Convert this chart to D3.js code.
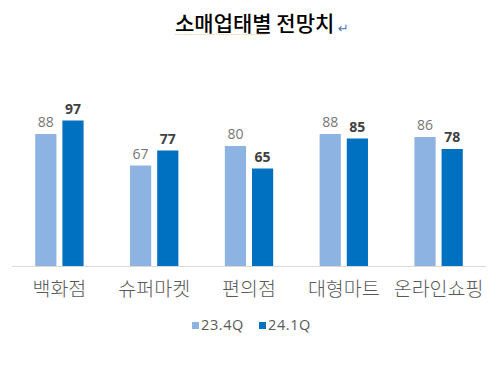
<!DOCTYPE html>
<html>
<head>
<meta charset="utf-8">
<script src="https://cdn.jsdelivr.net/npm/d3@7"></script>
<style>
  body { margin: 0; background: #fff; }
  svg { display: block; font-family: "Noto Sans CJK KR", "Noto Sans", sans-serif; }
</style>
</head>
<body>
<svg id="chart" width="503" height="371"></svg>
<script>
// chart data
var categories = ["백화점", "슈퍼마켓", "편의점", "대형마트", "온라인쇼핑"];
var seriesNames = ["23.4Q", "24.1Q"];
var values234 = [88, 67, 80, 88, 86];
var values241 = [97, 77, 65, 85, 78];
var colors = ["#8db3e2", "#0070c0"];

var svg = d3.select("#chart");

var baseY = 266;

var x0 = d3.scaleBand()
    .domain(categories)
    .range([12, 486])
    .paddingInner(0.49)
    .paddingOuter(0.245);

var x1 = d3.scaleBand()
    .domain(seriesNames)
    .range([0, x0.bandwidth()])
    .paddingInner(0.22);

// 1.5 px per unit
var y = d3.scaleLinear()
    .domain([0, 100])
    .range([baseY, baseY - 150]);

var rows = categories.map(function(c, i) {
    return {cat: c, vals: [values234[i], values241[i]]};
});

// title
svg.append("text")
    .attr("x", 175)
    .attr("y", 31)
    .attr("font-size", 21)
    .attr("font-weight", 500)
    .attr("fill", "#000")
    .text("소매업태별 전망치");

// wavy spell-check underline under first word
var wave = "M175,34";
for (var wx = 175; wx < 267; wx += 2) {
    wave += "L" + (wx + 1) + "," + 35 + "L" + (wx + 2) + "," + 34;
}
svg.append("path")
    .attr("d", wave)
    .attr("fill", "none")
    .attr("stroke", "#e9b25e")
    .attr("stroke-width", 0.6)
    .attr("stroke-dasharray", "1.5,1");

// paragraph mark
svg.append("text")
    .attr("x", 338)
    .attr("y", 33)
    .attr("font-size", 13)
    .attr("fill", "#4a74c4")
    .attr("font-family", "DejaVu Sans")
    .text("↵");

// baseline
svg.append("line")
    .attr("x1", 12)
    .attr("x2", 486)
    .attr("y1", baseY + 0.5)
    .attr("y2", baseY + 0.5)
    .attr("stroke", "#d9d9d9")
    .attr("stroke-width", 1);

var group = svg.append("g")
    .selectAll("g")
    .data(rows)
    .enter().append("g")
    .attr("transform", function(d) { return "translate(" + x0(d.cat) + ",0)"; });

var bar = group.selectAll("g")
    .data(function(d) {
        return d.vals.map(function(v, i) { return {name: seriesNames[i], value: v, idx: i}; });
    })
    .enter().append("g");

bar.append("rect")
    .attr("x", function(d) { return x1(d.name); })
    .attr("y", function(d) { return y(d.value); })
    .attr("width", x1.bandwidth())
    .attr("height", function(d) { return baseY - y(d.value); })
    .attr("fill", function(d) { return colors[d.idx]; });

bar.append("text")
    .attr("x", function(d) { return x1(d.name) + x1.bandwidth() / 2; })
    .attr("y", function(d) { return y(d.value) - 7; })
    .attr("text-anchor", "middle")
    .attr("font-family", "Open Sans, Noto Sans, sans-serif")
    .attr("font-size", 14)
    .attr("font-weight", function(d) { return d.idx == 1 ? "bold" : "normal"; })
    .attr("fill", function(d) { return d.idx == 1 ? "#404040" : "#767676"; })
    .text(function(d) { return d.value; });

// category labels
svg.append("g")
    .selectAll("text")
    .data(categories)
    .enter().append("text")
    .attr("x", function(d) { return x0(d) + x0.bandwidth() / 2; })
    .attr("y", 296)
    .attr("text-anchor", "middle")
    .attr("font-size", 19.5)
    .attr("font-weight", 300)
    .attr("fill", "#595959")
    .text(function(d) { return d; });

// legend
var legendX = [192, 259];
var legend = svg.append("g")
    .selectAll("g")
    .data(seriesNames)
    .enter().append("g")
    .attr("transform", function(d, i) { return "translate(" + legendX[i] + ",322)"; });

legend.append("rect")
    .attr("width", 7)
    .attr("height", 7)
    .attr("fill", function(d, i) { return colors[i]; });

legend.append("text")
    .attr("x", 9)
    .attr("y", 8)
    .attr("font-family", "Open Sans, Noto Sans, sans-serif")
    .attr("font-size", 14.5)
    .attr("letter-spacing", 0.6)
    .attr("fill", "#595959")
    .text(function(d) { return d; });
</script>
</body>
</html>
